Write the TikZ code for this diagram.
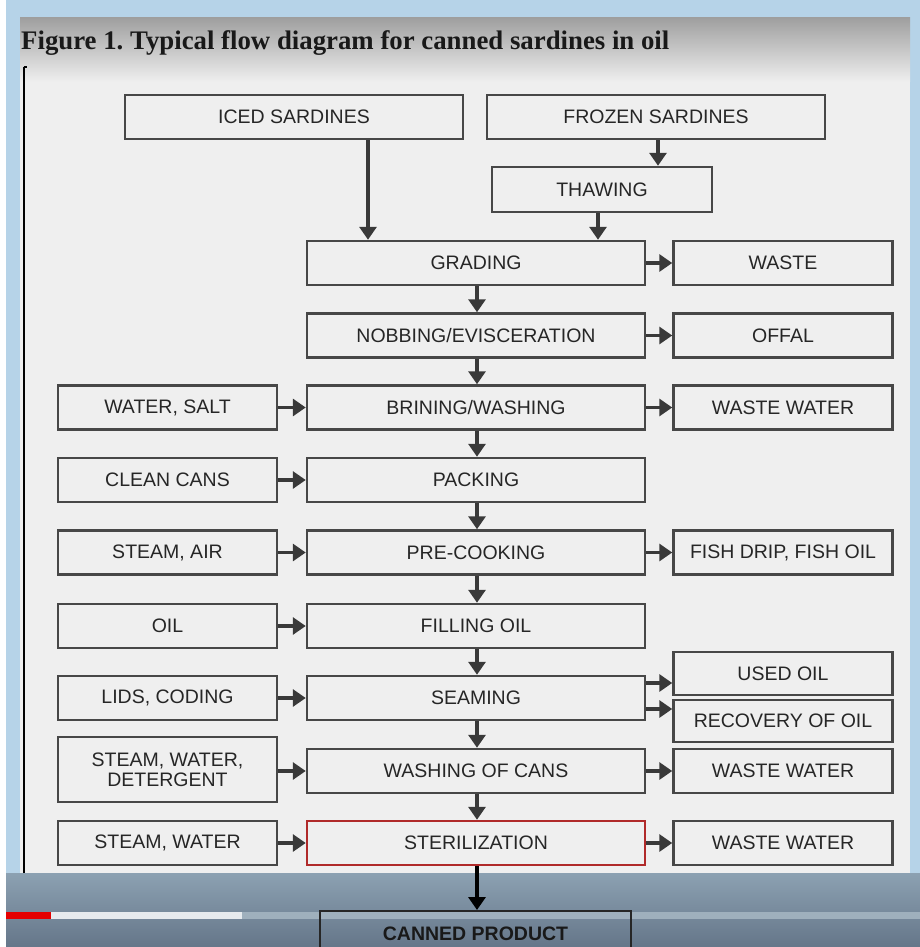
\documentclass[tikz,border=0pt]{standalone}
\usepackage{fontspec}
\setmainfont{Liberation Sans}
\newfontfamily\titlefont{Liberation Serif}
\usetikzlibrary{arrows.meta}
\definecolor{framebl}{HTML}{B6D3E8}
\definecolor{pagebg}{HTML}{EFEFEF}
\definecolor{boxline}{HTML}{474747}
\definecolor{boxtext}{HTML}{262626}
\definecolor{sterred}{HTML}{B02A2A}
\definecolor{bandtop}{HTML}{8CA1B2}
\definecolor{bandbot}{HTML}{657689}
\definecolor{trackcol}{HTML}{9FB0BD}
\tikzset{
  x=1pt, y=-1pt,
  box/.style={draw=boxline, line width=2.5pt, fill=pagebg, text=boxtext,
    minimum height=44pt, inner sep=2pt, align=center,
    font=\fontsize{19.5}{22}\selectfont},
  mainbox/.style={box, minimum width=338pt},
  sidebox/.style={box, minimum width=219pt},
  arr/.style={line width=3.5pt, draw=boxline!80!black,
    -{Triangle[length=13pt,width=17pt]}},
}
\begin{document}
\begin{tikzpicture}
\useasboundingbox (0,0) rectangle (920,947);
% background
\fill[framebl] (0,0) rectangle (920,947);
\fill[white] (0,0) rectangle (6,947);
\fill[pagebg] (20,18) rectangle (910,873);
\shade[top color=gray!75, bottom color=pagebg] (20,18) rectangle (910,82);
\shade[top color=bandtop, bottom color=bandbot] (6,873) rectangle (920,947);
\fill[trackcol] (242,912) rectangle (920,919);
\fill[white!78!bandtop] (51,912) rectangle (242,919);
\fill[red!90!black] (6,912) rectangle (51,919);
% left rule
\draw[line width=2pt, black] (24,67) -- (24,873);
\draw[line width=1.5pt, black] (23.5,67) -- (27,67);
% title
\node[anchor=base west, inner sep=0pt, text=black!90, font=\titlefont\bfseries\fontsize{26.8}{30}\selectfont]
  (title) at (21,50) {Figure 1.\ Typical flow diagram for canned sardines in oil};
% boxes
\node[box, minimum width=338pt] (iced) at (294,117) {ICED SARDINES};
\node[box, minimum width=338pt] (frozen) at (656,117) {FROZEN SARDINES};
\node[box, minimum width=220pt, minimum height=45pt] (thaw) at (602,189.5) {THAWING};
\node[mainbox] (grad) at (476,263) {GRADING};
\node[sidebox] (waste) at (783,263) {WASTE};
\node[mainbox] (nob) at (476,335.5) {NOBBING/EVISCERATION};
\node[sidebox] (offal) at (783,335.5) {OFFAL};
\node[sidebox] (wsalt) at (167.5,407.5) {WATER, SALT};
\node[mainbox] (brine) at (476,407.5) {BRINING/WASHING};
\node[sidebox] (ww1) at (783,407.5) {WASTE WATER};
\node[sidebox] (cans) at (167.5,480) {CLEAN CANS};
\node[mainbox] (pack) at (476,480) {PACKING};
\node[sidebox] (sair) at (167.5,552.5) {STEAM, AIR};
\node[mainbox] (precook) at (476,552.5) {PRE-COOKING};
\node[sidebox] (drip) at (783,552.5) {FISH DRIP, FISH OIL};
\node[sidebox] (oil) at (167.5,626) {OIL};
\node[mainbox] (fill) at (476,626) {FILLING OIL};
\node[sidebox] (lids) at (167.5,698) {LIDS, CODING};
\node[mainbox] (seam) at (476,698) {SEAMING};
\node[sidebox, minimum height=43pt] (used) at (783,673.5) {USED OIL};
\node[sidebox, minimum height=42pt] (recov) at (783,721) {RECOVERY OF OIL};
\node[sidebox, minimum height=65pt] (swd) at (167.5,769.5) {STEAM, WATER,\\[-2pt]DETERGENT};
\node[mainbox] (wash) at (476,771) {WASHING OF CANS};
\node[sidebox] (ww2) at (783,771) {WASTE WATER};
\node[sidebox] (sw) at (167.5,843) {STEAM, WATER};
\node[mainbox, draw=sterred] (steril) at (476,843) {STERILIZATION};
\node[sidebox] (ww3) at (783,843) {WASTE WATER};
\node[draw=black!85, line width=2pt, minimum width=311pt, minimum height=46pt,
  font=\bfseries\fontsize{19.5}{22}\selectfont, text=black!90] (canned) at (475.5,934) {CANNED PRODUCT};
% connectors
\coordinate (icx) at (368,0);
\coordinate (frx) at (658,0);
\coordinate (thx) at (598,0);
\coordinate (mx) at (477,0);
\coordinate (ua) at (0,683);
\coordinate (ub) at (0,709);
\draw[arr] (iced.south -| icx) -- (grad.north -| icx);
\draw[arr] (frozen.south -| frx) -- (thaw.north -| frx);
\draw[arr] (thaw.south -| thx) -- (grad.north -| thx);
\draw[arr] (grad.south -| mx) -- (nob.north -| mx);
\draw[arr] (nob.south -| mx) -- (brine.north -| mx);
\draw[arr] (brine.south -| mx) -- (pack.north -| mx);
\draw[arr] (pack.south -| mx) -- (precook.north -| mx);
\draw[arr] (precook.south -| mx) -- (fill.north -| mx);
\draw[arr] (fill.south -| mx) -- (seam.north -| mx);
\draw[arr] (seam.south -| mx) -- (wash.north -| mx);
\draw[arr] (wash.south -| mx) -- (steril.north -| mx);
\draw[arr, draw=black] (steril.south -| mx) -- (canned.north -| mx);
\draw[arr] (grad.east) -- (waste.west);
\draw[arr] (nob.east) -- (offal.west);
\draw[arr] (brine.east) -- (ww1.west);
\draw[arr] (precook.east) -- (drip.west);
\draw[arr] (seam.east |- ua) -- (used.west |- ua);
\draw[arr] (seam.east |- ub) -- (recov.west |- ub);
\draw[arr] (wash.east) -- (ww2.west);
\draw[arr] (steril.east) -- (ww3.west);
\draw[arr] (wsalt.east) -- (brine.west);
\draw[arr] (cans.east) -- (pack.west);
\draw[arr] (sair.east) -- (precook.west);
\draw[arr] (oil.east) -- (fill.west);
\draw[arr] (lids.east) -- (seam.west);
\draw[arr] (swd.east |- wash.west) -- (wash.west);
\draw[arr] (sw.east) -- (steril.west);
\end{tikzpicture}
\end{document}
